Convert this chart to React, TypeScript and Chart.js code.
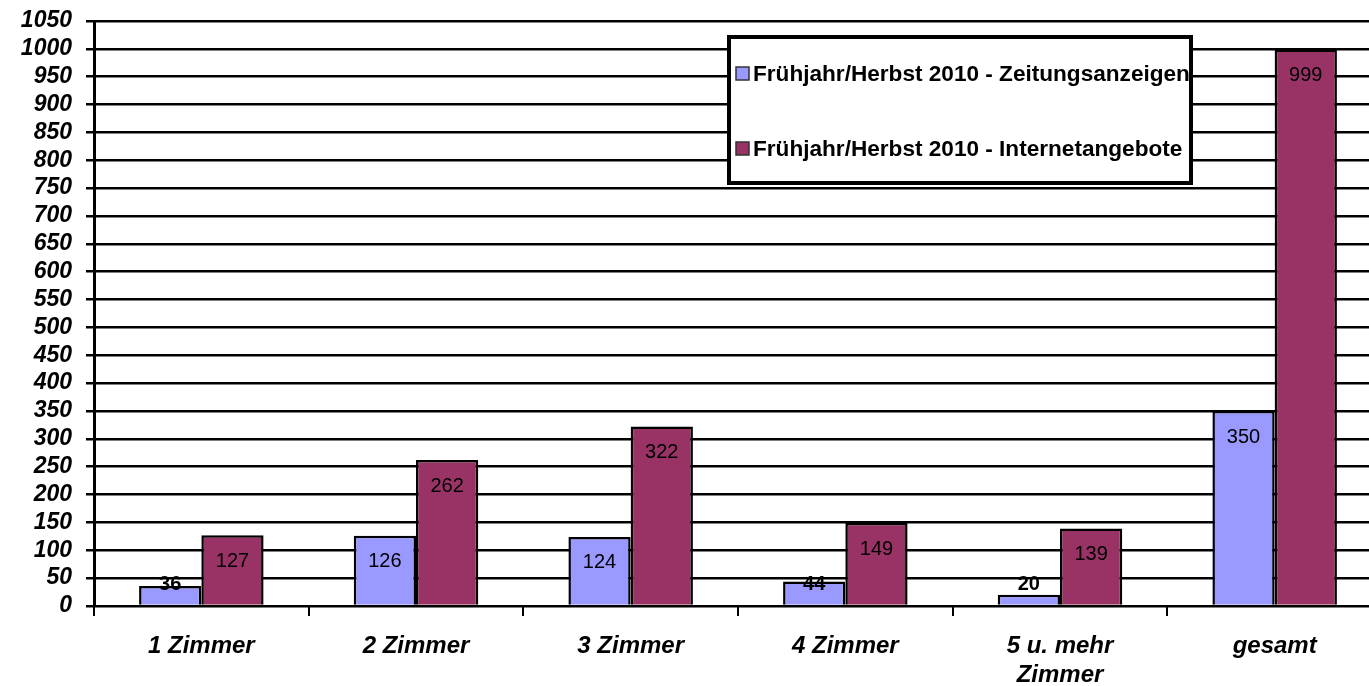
import React, { useEffect, useRef } from "react";
import { Chart, registerables } from "chart.js";

Chart.register(...registerables);

const categories: (string | string[])[] = [
  "1 Zimmer",
  "2 Zimmer",
  "3 Zimmer",
  "4 Zimmer",
  ["5 u. mehr", "Zimmer"],
  "gesamt",
];
const zeitungsanzeigen = [36, 126, 124, 44, 20, 350];
const internetangebote = [127, 262, 322, 149, 139, 999];
const seriesNames = [
  "Frühjahr/Herbst 2010 - Zeitungsanzeigen",
  "Frühjahr/Herbst 2010 - Internetangebote",
];
const seriesColors = ["#9999FF", "#993366"];
const yMin = 0;
const yMax = 1050;
const yStep = 50;

const FONT = '"Liberation Sans", Arial, sans-serif';

const valueLabels = {
  id: "valueLabels",
  afterDatasetsDraw(chart: any) {
    const ctx = chart.ctx;
    const zero = chart.scales.y.getPixelForValue(0);
    chart.data.datasets.forEach((ds: any, i: number) => {
      const meta = chart.getDatasetMeta(i);
      meta.data.forEach((bar: any, j: number) => {
        const v = ds.data[j];
        let y = bar.y + 26;
        let bold = false;
        const limit = zero - 22;
        if (y > limit) {
          y = limit;
          bold = true;
        }
        ctx.save();
        ctx.font = `${bold ? "bold " : ""}20px ${FONT}`;
        ctx.fillStyle = "#000";
        ctx.textAlign = "center";
        ctx.textBaseline = "middle";
        ctx.fillText(String(v), bar.x, y);
        ctx.restore();
      });
    });
  },
};

const boxLegend = {
  id: "boxLegend",
  afterDraw(chart: any) {
    const ctx = chart.ctx;
    ctx.save();
    const bx = 729, by = 37, bw = 462, bh = 146;
    ctx.fillStyle = "#fff";
    ctx.fillRect(bx, by, bw, bh);
    ctx.lineWidth = 4;
    ctx.strokeStyle = "#000";
    ctx.strokeRect(bx, by, bw, bh);
    const ys = [74, 149];
    seriesNames.forEach((name, i) => {
      const y = ys[i];
      ctx.fillStyle = seriesColors[i];
      ctx.fillRect(736, y - 7, 13, 13);
      ctx.lineWidth = 1.5;
      ctx.strokeStyle = "#333";
      ctx.strokeRect(736, y - 7, 13, 13);
      ctx.fillStyle = "#000";
      ctx.font = `bold 22.6px ${FONT}`;
      ctx.textAlign = "left";
      ctx.textBaseline = "middle";
      ctx.fillText(name, 753, y + 1);
    });
    ctx.restore();
  },
};

export default function App() {
  const ref = useRef<HTMLCanvasElement>(null);
  useEffect(() => {
    if (!ref.current) return;
    const chart = new Chart(ref.current, {
      type: "bar",
      data: {
        labels: categories as any,
        datasets: [
          {
            label: seriesNames[0],
            data: zeitungsanzeigen,
            backgroundColor: seriesColors[0],
            borderColor: "#000",
            borderWidth: 2.5,
            categoryPercentage: 0.58,
            barPercentage: 1,
          },
          {
            label: seriesNames[1],
            data: internetangebote,
            backgroundColor: seriesColors[1],
            borderColor: "#000",
            borderWidth: 2.5,
            categoryPercentage: 0.58,
            barPercentage: 1,
          },
        ],
      },
      options: {
        responsive: false,
        animation: false,
        layout: { padding: { top: 21, right: 8, left: 0, bottom: 0 } },
        plugins: {
          legend: { display: false },
          tooltip: { enabled: false },
        },
        scales: {
          x: {
            grid: {
              display: true,
              drawOnChartArea: false,
              color: "#000",
              lineWidth: 2,
              tickLength: 10,
              offset: true,
            },
            border: { display: false },
            ticks: {
              color: "#000",
              padding: 16,
              maxRotation: 0,
              autoSkip: false,
              font: { family: FONT, size: 24, weight: "bold", style: "italic", lineHeight: 1.2 } as any,
            },
            afterFit(scale: any) {
              scale.height = 80;
              scale.paddingLeft = 0;
              scale.paddingRight = 0;
            },
          },
          y: {
            min: yMin,
            max: yMax,
            grid: {
              color: "#000",
              lineWidth: 2.5,
              tickLength: 8,
            },
            border: { display: true, color: "#000", width: 3 },
            ticks: {
              stepSize: yStep,
              autoSkip: false,
              color: "#000",
              padding: 14,
              callback: (v: any) => String(v),
              font: { family: FONT, size: 23, weight: "bold", style: "italic" } as any,
            },
            afterFit(scale: any) {
              scale.width = 94;
              scale.paddingTop = 0;
              scale.paddingBottom = 0;
            },
          },
        },
      },
      plugins: [valueLabels, boxLegend],
    });
    return () => chart.destroy();
  }, []);
  return (
    <div
      style={{
        position: "fixed",
        left: 0,
        top: 0,
        width: 1369,
        height: 686,
        overflow: "hidden",
        background: "#fff",
      }}
    >
      <canvas ref={ref} width={1390} height={686} style={{ display: "block" }} />
    </div>
  );
}
